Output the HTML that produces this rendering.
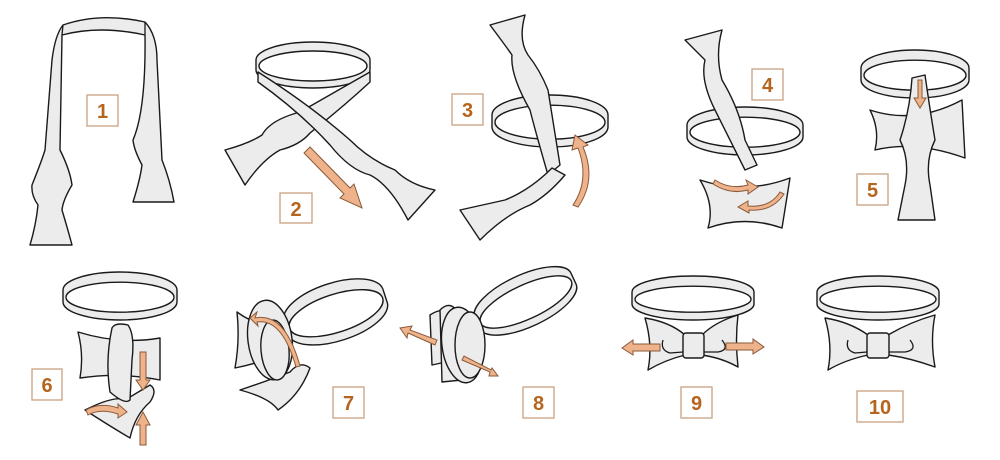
<!DOCTYPE html>
<html><head><style>
html,body{margin:0;padding:0;background:#fff;width:1000px;height:460px;overflow:hidden}
svg{display:block}
.s{fill:#ececec;stroke:#1a1a1a;stroke-width:1.4;stroke-linejoin:round}
.r{fill:#ececec;fill-rule:evenodd;stroke:#1a1a1a;stroke-width:1.4;stroke-linejoin:round}
.n{fill:none;stroke:#1a1a1a;stroke-width:1.3}
.a{fill:#efb38b;stroke:#8a5a3a;stroke-width:1}
.b{fill:#fff;stroke:#c9a27f;stroke-width:1.3}
.t{fill:#b5651d;font:bold 20px "Liberation Sans",sans-serif;text-anchor:middle}
</style></head><body>
<svg width="1000" height="460" viewBox="0 0 1000 460">
<!-- Step 1 -->
<path class="s" d="M63,25 Q100,12 145,22 Q157,35 157,60 L162,160 Q170,180 174,202 L133,202 Q140,180 142,165 Q134,150 133,140 Q146,110 145,35 Q100,25 62,35 L60,150 Q70,170 72,185 Q63,200 62,210 Q68,230 72,245 L30,245 Q36,225 38,205 Q31,195 32,185 Q42,160 45,150 L52,60 Q55,35 63,25 Z"/>
<path class="n" d="M63,25 L62,35 M145,22 L145,35"/>
<rect class="b" x="87" y="95" width="31" height="31"/><text class="t" x="102.5" y="118">1</text>
<!-- Step 2 -->
<path class="r" d="M256,60 A57,18 0 0 1 370,60 L370,70 A57,18 0 0 1 256,70 Z M259,66 A54,15 0 1 0 367,66 A54,15 0 1 0 259,66 Z"/>
<path class="s" d="M370,72 Q330,95 300,112 Q270,120 262,135 Q250,143 225,150 L245,185 Q262,160 280,150 Q300,145 310,133 L320,125 Q345,105 370,82 Z"/>
<path class="s" d="M258,72 L258,82 Q300,112 330,145 Q350,170 370,175 Q390,185 408,220 L435,190 Q410,185 395,170 Q370,160 350,140 Q310,105 258,72 Z"/>
<path class="a" d="M304,153 L310,147 L350,188 L354,184 L362,208 L340,198 L344,194 Z"/>
<rect class="b" x="280" y="193" width="32" height="30"/><text class="t" x="296" y="216">2</text>
<!-- Step 3 -->
<path class="r" d="M492,115 A58,20 0 0 1 608,115 L608,127 A58,20 0 0 1 492,127 Z M495,122.2 A55,17 0 1 0 605,122.2 A55,17 0 1 0 495,122.2 Z"/>
<path class="s" d="M490,25 L525,15 Q518,40 528,55 Q540,70 548,90 L560,165 L548,175 Q535,130 530,110 Q510,75 512,55 Q505,45 490,25 Z"/>
<path class="s" d="M552,168 Q530,190 505,200 L460,210 L480,240 Q505,215 530,205 Q548,195 565,175 Z"/>
<path class="a" d="M573,205 Q590,180 578,148 L572,150 L575,135 L588,145 L583,147 Q597,180 578,207 Z"/>
<rect class="b" x="452" y="94" width="31" height="31"/><text class="t" x="467.5" y="117">3</text>
<!-- Step 4 -->
<path class="r" d="M687,125 A58,18 0 0 1 803,125 L803,137 A58,18 0 0 1 687,137 Z M690,132.2 A55,15 0 1 0 800,132.2 A55,15 0 1 0 690,132.2 Z"/>
<path class="s" d="M700,180 Q745,195 790,178 L782,228 Q745,215 708,228 Q715,205 700,180 Z"/>
<path class="s" d="M685,40 L722,30 Q715,55 722,80 Q740,110 745,140 L757,165 L745,170 Q725,130 715,110 Q700,80 705,60 Z"/>
<path class="a" d="M715,180 Q730,190 748,185 L746,180 L758,187 L748,194 L748,190 Q730,195 713,184 Z"/>
<path class="a" d="M780,192 Q770,208 748,206 L748,201 L738,207 L749,213 L749,210 Q772,212 784,194 Z"/>
<rect class="b" x="752" y="69" width="31" height="31"/><text class="t" x="767.5" y="92">4</text>
<!-- Step 5 -->
<path class="r" d="M861,68 A54,18 0 0 1 969,68 L969,80 A54,18 0 0 1 861,80 Z M864,75.2 A51,15 0 1 0 966,75.2 A51,15 0 1 0 864,75.2 Z"/>
<path class="s" d="M870,110 Q915,125 962,100 L965,158 Q915,140 875,150 Q880,130 870,110 Z"/>
<path class="s" d="M912,78 L925,75 Q930,110 935,140 Q925,160 930,185 L935,220 L898,220 L905,185 Q910,160 900,140 Q910,110 912,78 Z"/>
<path class="a" d="M918,98 L918,80 L922,80 L922,98 L926,98 L920,108 L914,98 Z"/>
<rect class="b" x="857" y="174" width="31" height="31"/><text class="t" x="872.5" y="197">5</text>
<!-- Step 6 -->
<path class="r" d="M63,290 A57,18 0 0 1 177,290 L177,302 A57,18 0 0 1 63,302 Z M66,297.2 A54,15 0 1 0 174,297.2 A54,15 0 1 0 66,297.2 Z"/>
<path class="s" d="M78,332 Q120,345 160,338 L160,380 Q120,372 80,378 Q84,355 78,332 Z"/>
<path class="s" d="M85,410 Q115,395 125,400 L150,385 Q158,390 150,402 Q135,415 130,438 Q108,425 85,410 Z"/>
<path class="s" d="M112,328 Q115,322 128,325 Q135,335 132,360 L130,400 Q125,405 110,392 Q105,360 112,328 Z"/>
<path class="a" d="M140,352 L146,352 L146,380 L150,380 L143,390 L136,380 L140,380 Z"/>
<path class="a" d="M140,445 L146,445 L146,425 L150,425 L143,412 L136,425 L140,425 Z"/>
<path class="a" d="M86,410 Q100,402 118,408 L118,404 L127,412 L118,418 L118,414 Q100,408 88,415 Z"/>
<rect class="b" x="32" y="369" width="30" height="31"/><text class="t" x="47" y="392">6</text>
<!-- Step 7 -->
<g transform="rotate(-18 335 310)"><path class="r" d="M283,305 A52,22 0 0 1 387,305 L387,319 A52,22 0 0 1 283,319 Z M286,313.4 A49,19 0 1 0 384,313.4 A49,19 0 1 0 286,313.4 Z"/></g>
<path class="s" d="M237,312 Q255,325 262,320 L265,360 Q250,365 235,368 Q240,340 237,312 Z"/>
<path class="s" d="M240,390 Q270,380 290,372 Q300,360 310,368 Q300,395 278,410 Q270,398 240,390 Z"/>
<ellipse class="s" cx="270" cy="340" rx="22" ry="40" transform="rotate(-8 270 340)"/>
<ellipse class="s" cx="275" cy="350" rx="14" ry="30" transform="rotate(-5 275 350)"/>
<path class="a" d="M255,318 Q285,312 300,366 L296,367 Q282,318 257,322 L258,326 L250,318 L257,312 Z"/>
<rect class="b" x="333" y="387" width="31" height="31"/><text class="t" x="348.5" y="410">7</text>
<!-- Step 8 -->
<g transform="rotate(-25 525 300)"><path class="r" d="M472,295 A53,20 0 0 1 578,295 L578,307 A53,20 0 0 1 472,307 Z M475,302.2 A50,17 0 1 0 575,302.2 A50,17 0 1 0 475,302.2 Z"/></g>
<path class="s" d="M430,315 Q445,305 450,318 L455,360 L432,365 Z"/>
<path class="s" d="M440,310 Q450,300 458,312 L462,380 L442,382 Z"/>
<ellipse class="s" cx="462" cy="345" rx="20" ry="38" transform="rotate(-8 462 345)"/>
<ellipse class="s" cx="470" cy="345" rx="15" ry="33"/>
<path class="a" d="M435,345 L408,333 L407,338 L400,328 L412,326 L410,330 L437,340 Z"/>
<path class="a" d="M462,360 L490,372 L489,376 L498,376 L492,368 L491,370 L464,356 Z"/>
<rect class="b" x="523" y="387" width="31" height="31"/><text class="t" x="538.5" y="410">8</text>
<!-- Step 9 -->
<path class="r" d="M632,292 A61,16 0 0 1 754,292 L754,304 A61,16 0 0 1 632,304 Z M635,299.2 A58,13 0 1 0 751,299.2 A58,13 0 1 0 635,299.2 Z"/>
<path class="s" d="M645,318 Q670,322 685,335 L685,355 Q665,360 648,370 Q653,345 645,318 Z"/>
<path class="s" d="M738,315 Q715,322 702,335 L702,355 Q722,358 738,367 Q735,340 738,315 Z"/>
<rect class="s" x="683" y="333" width="21" height="25" rx="3"/>
<path class="n" d="M663,340 Q660,350 670,353 L683,352 M722,340 Q730,350 718,352 L704,352"/>
<path class="a" d="M660,344 L633,344 L633,340 L622,348 L633,355 L633,351 L660,351 Z"/>
<path class="a" d="M726,343 L753,343 L753,339 L764,347 L753,354 L753,350 L726,350 Z"/>
<rect class="b" x="681" y="387" width="31" height="31"/><text class="t" x="696.5" y="410">9</text>
<!-- Step 10 -->
<path class="r" d="M817,292 A61,16 0 0 1 939,292 L939,304 A61,16 0 0 1 817,304 Z M820,299.2 A58,13 0 1 0 936,299.2 A58,13 0 1 0 820,299.2 Z"/>
<path class="s" d="M825,318 Q850,322 868,335 L868,355 Q845,360 828,370 Q833,345 825,318 Z"/>
<path class="s" d="M935,315 Q910,322 888,335 L888,355 Q910,358 935,367 Q930,340 935,315 Z"/>
<rect class="s" x="867" y="333" width="22" height="25" rx="3"/>
<path class="n" d="M848,340 Q845,350 855,353 L867,352 M910,340 Q918,350 905,352 L889,352"/>
<rect class="b" x="857" y="391" width="46" height="31"/><text class="t" x="880" y="414">10</text>
</svg>
</body></html>
